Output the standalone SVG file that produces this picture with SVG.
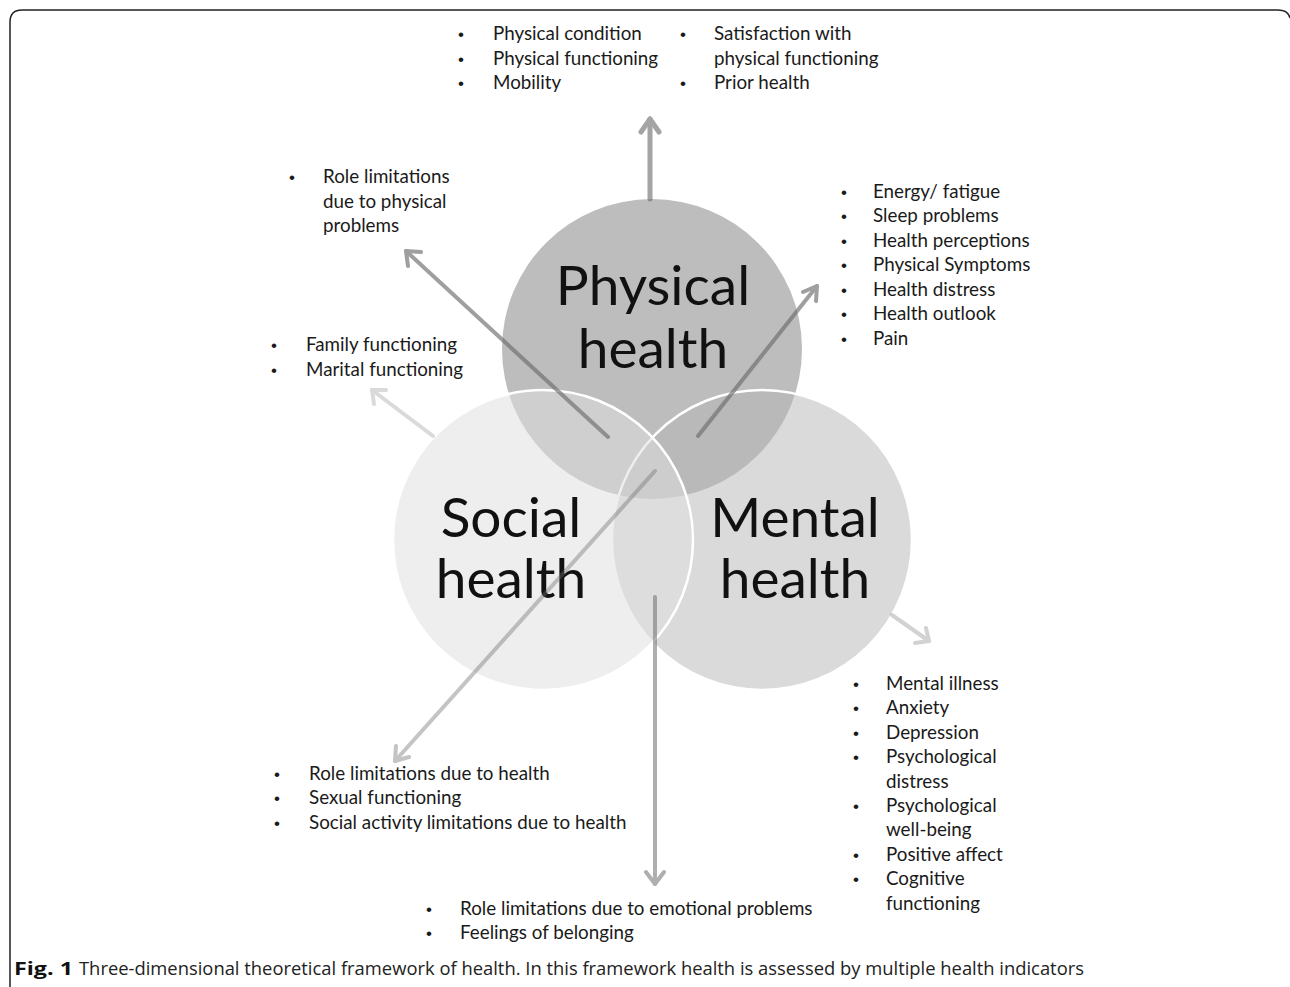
<svg xmlns="http://www.w3.org/2000/svg" width="1290" height="987" viewBox="0 0 1290 987">
<style>
.t{font-family:Lato,"Open Sans","Liberation Sans",sans-serif;font-size:18.8px;fill:#1a1a1a}
.b{font-family:"Liberation Sans",sans-serif;font-size:17px;fill:#1a1a1a}
.big{font-family:Lato,"Open Sans","Liberation Sans",sans-serif;font-size:55px;fill:#111;text-anchor:middle}
.cap{font-family:"Open Sans","Liberation Sans",sans-serif;font-size:18px;fill:#222}
.arr{fill:none;stroke:#6e6e6e;stroke-linecap:round;stroke-linejoin:round}
</style>
<rect width="1290" height="987" fill="#fff"/>
<path d="M10,987 L10,22 Q10,10 22,10 L1278,10 Q1288,10 1290,18" fill="none" stroke="#222" stroke-width="1.5"/>

<g id="physical">
<circle cx="652" cy="349" r="150" fill="#bdbdbd"/>
</g>
<g id="mental">
<circle cx="762" cy="540" r="150" fill="#b5b5b5" fill-opacity="0.5" stroke="#fff" stroke-width="2.5"/>
</g>
<g id="social">
<circle cx="543" cy="540" r="150" fill="#dedede" fill-opacity="0.53" stroke="#fff" stroke-width="2.5"/>
</g>
<g id="labels">
<text class="big" x="653" y="305">Physical</text>
<text class="big" x="653" y="368">health</text>
<text class="big" x="511" y="537">Social</text>
<text class="big" x="511" y="598">health</text>
<text class="big" x="795" y="537">Mental</text>
<text class="big" x="795" y="598">health</text>
</g>

<g id="connectors">
<g opacity="0.62" class="arr" stroke-width="5"><path d="M650,199 L650,119"/><path d="M641,132 L650,119 L659,132"/></g>
<g opacity="0.66" class="arr" stroke-width="4"><path d="M608,437 L406,251"/><path d="M408,266 L406,251 L421,252"/></g>
<g opacity="0.66" class="arr" stroke-width="4"><path d="M698,436 L817,286"/><path d="M803,292 L817,286 L816,301"/></g>
<g opacity="0.25" class="arr" stroke-width="4"><path d="M433,436 L372,390"/><path d="M374,404 L372,390 L386,390"/></g>
<g opacity="0.4" class="arr" stroke-width="4"><path d="M655,471 L395,761"/><path d="M396,746 L395,761 L409,757"/></g>
<g opacity="0.55" class="arr" stroke-width="4"><path d="M655,597 L655,884"/><path d="M646,872 L655,884 L664,872"/></g>
<g opacity="0.3" class="arr" stroke-width="4"><path d="M892,615 L929,641"/><path d="M915,643 L929,641 L926,628"/></g>
</g>

<g id="top-list">
<text class="b" x="458" y="40">•</text><text class="t" x="493" y="40">Physical condition</text>
<text class="b" x="458" y="65">•</text><text class="t" x="493" y="65">Physical functioning</text>
<text class="b" x="458" y="89">•</text><text class="t" x="493" y="89">Mobility</text>
<text class="b" x="680" y="40">•</text><text class="t" x="714" y="40">Satisfaction with</text>
<text class="t" x="714" y="65">physical functioning</text>
<text class="b" x="680" y="89">•</text><text class="t" x="714" y="89">Prior health</text>
</g>
<g id="role-physical">
<text class="b" x="289" y="183">•</text><text class="t" x="323" y="183">Role limitations</text>
<text class="t" x="323" y="208">due to physical</text>
<text class="t" x="323" y="232">problems</text>
</g>
<g id="right-list">
<text class="b" x="841" y="198">•</text><text class="t" x="873" y="198">Energy/ fatigue</text>
<text class="b" x="841" y="222">•</text><text class="t" x="873" y="222">Sleep problems</text>
<text class="b" x="841" y="247">•</text><text class="t" x="873" y="247">Health perceptions</text>
<text class="b" x="841" y="271">•</text><text class="t" x="873" y="271">Physical Symptoms</text>
<text class="b" x="841" y="296">•</text><text class="t" x="873" y="296">Health distress</text>
<text class="b" x="841" y="320">•</text><text class="t" x="873" y="320">Health outlook</text>
<text class="b" x="841" y="345">•</text><text class="t" x="873" y="345">Pain</text>
</g>
<g id="family-list">
<text class="b" x="271" y="351">•</text><text class="t" x="306" y="351">Family functioning</text>
<text class="b" x="271" y="376">•</text><text class="t" x="306" y="376">Marital functioning</text>
</g>
<g id="mental-list">
<text class="b" x="853" y="690">•</text><text class="t" x="886" y="690">Mental illness</text>
<text class="b" x="853" y="714">•</text><text class="t" x="886" y="714">Anxiety</text>
<text class="b" x="853" y="739">•</text><text class="t" x="886" y="739">Depression</text>
<text class="b" x="853" y="763">•</text><text class="t" x="886" y="763">Psychological</text>
<text class="t" x="886" y="788">distress</text>
<text class="b" x="853" y="812">•</text><text class="t" x="886" y="812">Psychological</text>
<text class="t" x="886" y="836">well-being</text>
<text class="b" x="853" y="861">•</text><text class="t" x="886" y="861">Positive affect</text>
<text class="b" x="853" y="885">•</text><text class="t" x="886" y="885">Cognitive</text>
<text class="t" x="886" y="910">functioning</text>
</g>
<g id="social-list">
<text class="b" x="274" y="780">•</text><text class="t" x="309" y="780">Role limitations due to health</text>
<text class="b" x="274" y="804">•</text><text class="t" x="309" y="804">Sexual functioning</text>
<text class="b" x="274" y="829">•</text><text class="t" x="309" y="829">Social activity limitations due to health</text>
</g>
<g id="bottom-list">
<text class="b" x="426" y="915">•</text><text class="t" x="460" y="915">Role limitations due to emotional problems</text>
<text class="b" x="426" y="939">•</text><text class="t" x="460" y="939">Feelings of belonging</text>
</g>
<g id="caption">
<text class="cap" x="14" y="975"><tspan font-weight="bold" fill="#111" textLength="59" lengthAdjust="spacingAndGlyphs">Fig. 1</tspan><tspan x="79" textLength="1005" lengthAdjust="spacingAndGlyphs">Three-dimensional theoretical framework of health. In this framework health is assessed by multiple health indicators</tspan></text>
</g>
</svg>
